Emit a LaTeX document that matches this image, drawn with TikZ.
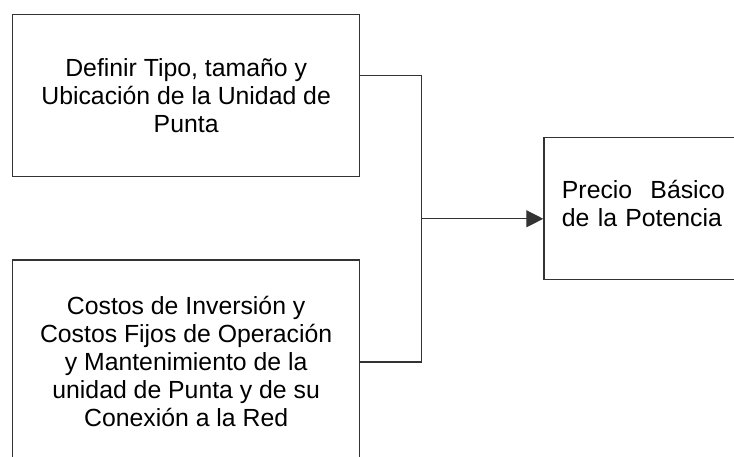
\documentclass[tikz,border=0pt]{standalone}
\usepackage{fontspec}
\setmainfont{Liberation Sans}
\usepackage{xcolor}
\usepackage{tikz}
\usetikzlibrary{arrows.meta,positioning,calc}

\begin{document}
\begin{tikzpicture}[
    font=\fontsize{24.8pt}{28pt}\selectfont,
    box/.style={rectangle, draw=black!80, line width=1.3pt, align=center, inner sep=0pt},
    link/.style={draw=black!80, line width=1.3pt}
]
    \node [box, minimum width=347pt, minimum height=162pt] (tipo) {Definir Tipo, tamaño y\\ Ubicación de la Unidad de\\ Punta};
    \node [box, minimum width=347pt, minimum height=204pt, below=82pt of tipo] (costos) {Costos de Inversión y\\ Costos Fijos de Operación\\ y Mantenimiento de la\\ unidad de Punta y de su\\ Conexión a la Red};
    \node [box, right=183pt of tipo, yshift=-113pt, minimum height=142pt, inner xsep=18pt, text width=163pt, align=left] (precio) {Precio\hfill Básico\\ de la Potencia\vspace{10pt}};

    % Connectors
    \coordinate (salida) at ([yshift=20pt]tipo.east);
    \coordinate (junta) at ($([xshift=61pt]salida)!0.5!([xshift=61pt]costos.east)$);
    \draw [link] (salida) -- ++(61pt,0) |- (costos.east);
    \draw [link, -{Triangle[length=17pt,width=17pt]}] (junta) -- (junta -| precio.west);

    \pgfresetboundingbox
    \useasboundingbox ([shift={(-12pt,14pt)}]tipo.north west) rectangle ([shift={(722pt,-443pt)}]tipo.north west);
\end{tikzpicture}
\end{document}
